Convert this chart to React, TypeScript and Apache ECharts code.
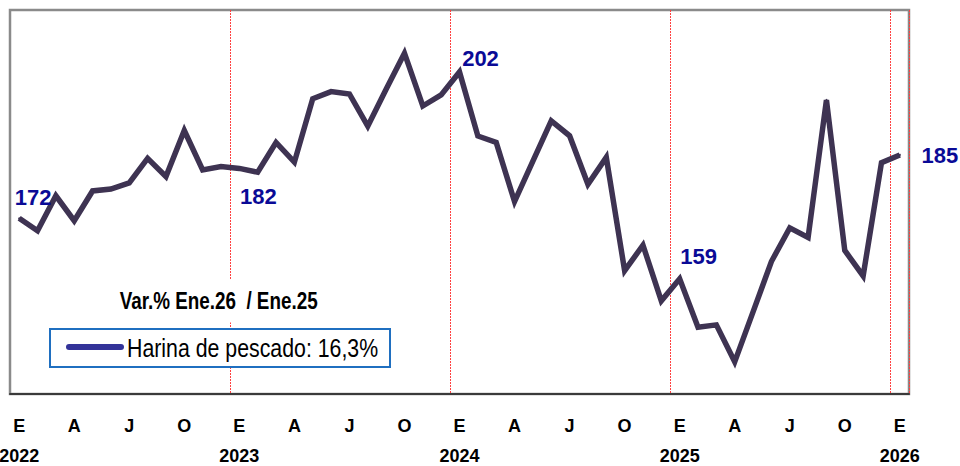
import React, { useEffect, useRef } from "react";
import * as echarts from "echarts";

const months: string[] = [];
const years = [2022, 2023, 2024, 2025, 2026];
const monthLetters = ["E", "F", "M", "A", "M", "J", "J", "A", "S", "O", "N", "D"];

const harinaValues = [
  171.6, 169.0, 176.3, 171.1, 177.3, 177.7, 179.0, 184.1, 180.3, 189.9, 181.7, 182.4,
  182.0, 181.2, 187.4, 183.3, 196.5, 198.0, 197.5, 190.8, 198.5, 206.0, 195.0, 197.3,
  202.1, 188.75, 187.4, 175.1, 183.5, 191.9, 188.8, 178.7, 184.3, 160.7, 166.0, 154.4,
  159.0, 148.9, 149.4, 141.7, 152.1, 162.6, 169.6, 167.6, 196.25, 164.9, 159.6, 183.2,
  184.8,
];

// label offsets for the January points (index -> [dx, dy])
const labeledPoints: Record<number, [number, number]> = {
  0: [14, -21],
  12: [19, 28],
  24: [21, -13],
  36: [19, -22],
  48: [40, 1],
};

for (let y = 0; y < years.length; y++) {
  for (let m = 0; m < 12; m++) {
    if (y === years.length - 1 && m > 0) break;
    months.push(`${monthLetters[m]}-${years[y]}`);
  }
}

const legendText = "Harina de pescado: 16,3%";
const varText = "Var.% Ene.26  / Ene.25";

const FONT = "'Liberation Sans', Arial, Helvetica, sans-serif";

export default function App() {
  const ref = useRef<HTMLDivElement>(null);

  useEffect(() => {
    document.body.style.margin = "0";
    if (!ref.current) return;
    const chart = echarts.init(ref.current, undefined, { renderer: "svg" });

    const data = harinaValues.map((v, i) => {
      const off = labeledPoints[i];
      if (off) {
        return {
          value: v,
          label: {
            show: true,
            position: "inside",
            offset: off,
            formatter: (p: any) => String(Math.round(p.value)),
            color: "#0a0a96",
            fontFamily: FONT,
            fontWeight: "bold",
            fontSize: 22,
          },
        };
      }
      return v;
    });

    chart.setOption({
      animation: false,
      backgroundColor: "#ffffff",
      grid: {
        left: 10,
        right: 51,
        top: 10,
        bottom: 72,
        show: true,
        borderColor: "#8a8a8a",
        borderWidth: 2.5,
        backgroundColor: "#ffffff",
        outerBoundsMode: "none",
        containLabel: false,
      },
      xAxis: {
        type: "category",
        data: months,
        boundaryGap: true,
        axisLine: { show: true, lineStyle: { color: "#3a3a3a", width: 2 } },
        axisTick: { show: false },
        axisLabel: {
          interval: 0,
          margin: 17,
          color: "#000000",
          fontFamily: FONT,
          fontWeight: "bold",
          fontSize: 18,
          lineHeight: 30,
          formatter: (_v: string, i: number) => {
            const m = i % 12;
            const yr = years[Math.floor(i / 12)];
            if (m === 0) return `E\n${yr}`;
            if (m === 3) return "A";
            if (m === 6) return "J";
            if (m === 9) return "O";
            return "";
          },
        },
        splitLine: {
          show: true,
          interval: (i: number) => i > 0 && i % 12 === 0,
          lineStyle: { color: "#ff4040", width: 1, type: [2, 1] },
        },
      },
      yAxis: {
        type: "value",
        min: 135,
        max: 215,
        show: false,
        splitLine: { show: false },
      },
      series: [
        {
          type: "line",
          data,
          symbol: "circle",
          symbolSize: 2,
          showSymbol: true,
          itemStyle: { color: "#3e3352" },
          lineStyle: { color: "#3e3352", width: 5.5, join: "miter" },
          z: 5,
        },
      ],
      graphic: [
        {
          type: "text",
          x: 118,
          y: 301,
          scaleX: 0.82,
          z: 10,
          style: {
            text: varText,
            fill: "#000000",
            fontFamily: FONT,
            fontWeight: "bold",
            fontSize: 23,
            verticalAlign: "middle",
            backgroundColor: "#ffffff",
            padding: [10, 2],
          },
        },
        {
          type: "rect",
          z: 10,
          shape: { x: 50, y: 329, width: 340, height: 38 },
          style: { fill: "#ffffff", stroke: "#1f6fc0", lineWidth: 2 },
        },
        {
          type: "line",
          z: 11,
          shape: { x1: 69, y1: 347, x2: 121, y2: 347 },
          style: { stroke: "#333399", lineWidth: 6, lineCap: "round" },
        },
        {
          type: "text",
          z: 11,
          x: 127,
          y: 348,
          scaleX: 0.82,
          style: {
            text: legendText,
            fill: "#000000",
            fontFamily: FONT,
            fontSize: 26,
            verticalAlign: "middle",
          },
        },
      ],
    });

    return () => chart.dispose();
  }, []);

  return <div ref={ref} style={{ width: 960, height: 466 }} />;
}
